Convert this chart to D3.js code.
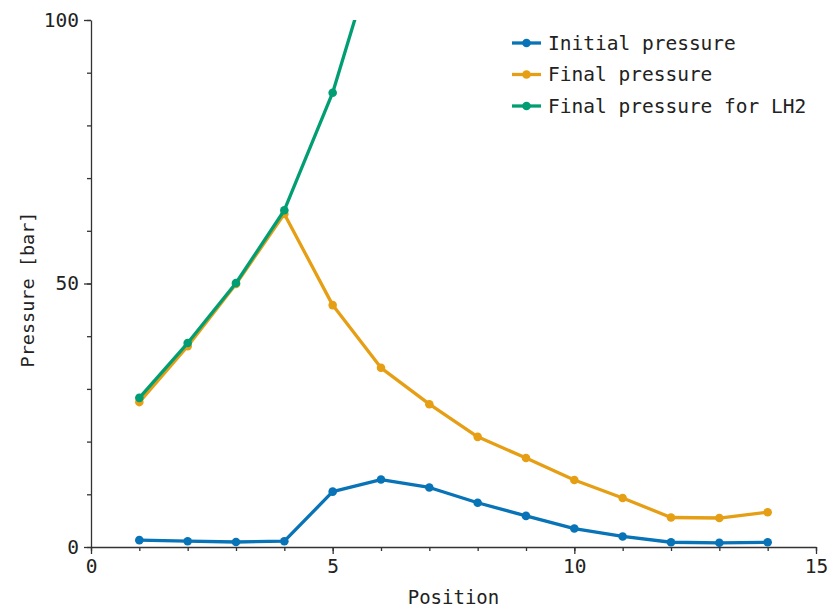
<!DOCTYPE html>
<html>
<head>
<meta charset="utf-8">
<script src="https://cdn.jsdelivr.net/npm/d3@7"></script>
<style>
  body { margin: 0; background: #fff; }
  text { font-family: "DejaVu Sans Mono", monospace; fill: #222; }
  .axis path, .axis line { stroke: #333; stroke-width: 1.3; }
</style>
</head>
<body>
<div id="chart"></div>
<script>
// chart data
const positions = [1, 2, 3, 4, 5, 6, 7, 8, 9, 10, 11, 12, 13, 14];
const initialPressure = [1.3, 1.1, 0.95, 1.1, 10.5, 12.8, 11.3, 8.4, 5.9, 3.5, 2.0, 0.9, 0.8, 0.9];
const finalPressure = [27.5, 38.1, 49.9, 63.2, 45.9, 34.0, 27.1, 20.9, 16.9, 12.7, 9.3, 5.6, 5.5, 6.6];
const lh2Positions = [1, 2, 3, 4, 5, 6];
const finalPressureLH2 = [28.3, 38.7, 50.1, 63.9, 86.2, 116.5];
const seriesNames = ["Initial pressure", "Final pressure", "Final pressure for LH2"];
const seriesColors = ["#0873b6", "#e69f14", "#029e73"];
const xTicks = [0, 5, 10, 15];
const yTicks = [0, 50, 100];

const WIDTH = 833;
const HEIGHT = 605;
const MARGINS = {left: 91, right: 17, top: 20, bottom: 58};
const PLOT_W = WIDTH - MARGINS.left - MARGINS.right;
const PLOT_H = HEIGHT - MARGINS.top - MARGINS.bottom;

const svg = d3.select("#chart")
    .append("svg")
        .attr("width", WIDTH)
        .attr("height", HEIGHT);

const X_SCALE = d3.scaleLinear().domain([0, 15]).range([0, PLOT_W]);
const Y_SCALE = d3.scaleLinear().domain([0, 100]).range([PLOT_H, 0]);

const plot = svg.append("g")
    .attr("transform", "translate(" + MARGINS.left + "," + MARGINS.top + ")");

svg.append("defs").append("clipPath")
    .attr("id", "clip")
    .append("rect")
        .attr("width", PLOT_W)
        .attr("height", PLOT_H);

// minor ticks
plot.append("g")
    .attr("class", "axis")
    .attr("transform", "translate(0," + PLOT_H + ")")
    .call(d3.axisBottom(X_SCALE).tickValues(d3.range(0, 16)).tickSize(4).tickFormat(""))
    .call(g => g.select(".domain").remove());
plot.append("g")
    .attr("class", "axis")
    .call(d3.axisLeft(Y_SCALE).tickValues(d3.range(0, 101, 10)).tickSize(4).tickFormat(""))
    .call(g => g.select(".domain").remove());

// major ticks
const xAxis = plot.append("g")
    .attr("class", "axis")
    .attr("transform", "translate(0," + PLOT_H + ")")
    .call(d3.axisBottom(X_SCALE).tickValues(xTicks).tickSize(7).tickSizeOuter(0).tickPadding(5));
xAxis.selectAll("text").attr("font-size", 19.5).attr("font-family", "DejaVu Sans Mono");

const yAxis = plot.append("g")
    .attr("class", "axis")
    .call(d3.axisLeft(Y_SCALE).tickValues(yTicks).tickSize(7).tickSizeOuter(0).tickPadding(5));
yAxis.selectAll("text").attr("font-size", 19.5).attr("font-family", "DejaVu Sans Mono");

// axis labels
svg.append("text")
    .attr("x", MARGINS.left + X_SCALE(7.5))
    .attr("y", 604)
    .attr("text-anchor", "middle")
    .attr("font-size", 19)
    .text("Position");

svg.append("text")
    .attr("transform", "translate(34," + (MARGINS.top + Y_SCALE(50) + 6) + ") rotate(-90)")
    .attr("text-anchor", "middle")
    .attr("font-size", 18.5)
    .text("Pressure [bar]");

// series
const series = [
    {xs: positions, ys: initialPressure},
    {xs: positions, ys: finalPressure},
    {xs: lh2Positions, ys: finalPressureLH2}
];

const line = d3.line()
    .x(d => X_SCALE(d[0]))
    .y(d => Y_SCALE(d[1]));

const lines = plot.append("g").attr("clip-path", "url(#clip)");

series.forEach((s, i) => {
    const pts = s.xs.map((x, j) => [x, s.ys[j]]);
    lines.append("path")
        .datum(pts)
        .attr("d", line)
        .attr("fill", "none")
        .attr("stroke", seriesColors[i])
        .attr("stroke-width", 3.3)
        .attr("stroke-linejoin", "round");
    lines.selectAll(".pt" + i)
        .data(pts)
        .enter()
        .append("circle")
            .attr("cx", d => X_SCALE(d[0]))
            .attr("cy", d => Y_SCALE(d[1]))
            .attr("r", 4.3)
            .attr("fill", seriesColors[i]);
});

// legend
const legend = svg.append("g").attr("transform", "translate(512,43)");
seriesNames.forEach((name, i) => {
    const row = legend.append("g").attr("transform", "translate(0," + (i * 31.5) + ")");
    row.append("line")
        .attr("x1", 0).attr("x2", 29)
        .attr("stroke", seriesColors[i])
        .attr("stroke-width", 3.3);
    row.append("circle")
        .attr("cx", 14.5)
        .attr("r", 4.3)
        .attr("fill", seriesColors[i]);
    row.append("text")
        .attr("x", 36)
        .attr("y", 6.5)
        .attr("font-size", 19.5)
        .text(name);
});
</script>
</body>
</html>
